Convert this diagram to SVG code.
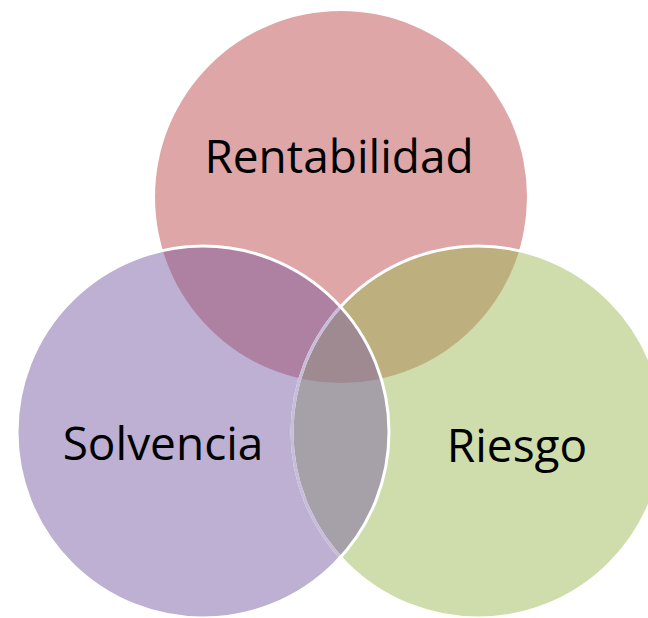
<svg xmlns="http://www.w3.org/2000/svg" width="648" height="618" viewBox="0 0 648 618">
  <style>
    .label { font-family: "Open Sans", "Noto Sans", "Liberation Sans", sans-serif; font-size: 46px; fill: #000000; text-anchor: middle; }
    .edge { fill: none; stroke: #ffffff; stroke-width: 3; }
  </style>
  <defs>
    <clipPath id="clipTop"><circle cx="341" cy="197" r="186"/></clipPath>
    <clipPath id="clipLeft"><circle cx="203" cy="432" r="186"/></clipPath>
    <clipPath id="clipRight"><circle cx="478" cy="432" r="186"/></clipPath>
  </defs>
  <rect x="0" y="0" width="648" height="618" fill="#ffffff"/>

  <g id="rentabilidad">
    <circle cx="341" cy="197" r="186" fill="#DEA6A6"/>
    <text class="label" x="339" y="173">Rentabilidad</text>
  </g>
  <g id="riesgo">
    <circle cx="478" cy="432" r="186" fill="#CEDDAB"/>
    <text class="label" x="517" y="462">Riesgo</text>
  </g>
  <g id="solvencia">
    <circle cx="203" cy="432" r="186" fill="#BDB0D2"/>
    <text class="label" x="163" y="460">Solvencia</text>
  </g>

  <g id="overlaps">
    <g clip-path="url(#clipTop)">
      <circle cx="203" cy="432" r="186" fill="#AE81A2"/>
      <circle cx="478" cy="432" r="186" fill="#BDB07E"/>
    </g>
    <g clip-path="url(#clipLeft)">
      <circle cx="478" cy="432" r="186" fill="#A6A1A9"/>
    </g>
    <g clip-path="url(#clipLeft)">
      <g clip-path="url(#clipTop)">
        <circle cx="478" cy="432" r="186" fill="#A08A92"/>
      </g>
    </g>
  </g>

  <g id="outlines">
    <circle class="edge" cx="478" cy="432" r="186"/>
    <g clip-path="url(#clipLeft)">
      <circle cx="478" cy="432" r="186" fill="none" stroke="#C7BCD9" stroke-width="3"/>
    </g>
    <circle class="edge" cx="203" cy="432" r="186"/>
  </g>
</svg>
